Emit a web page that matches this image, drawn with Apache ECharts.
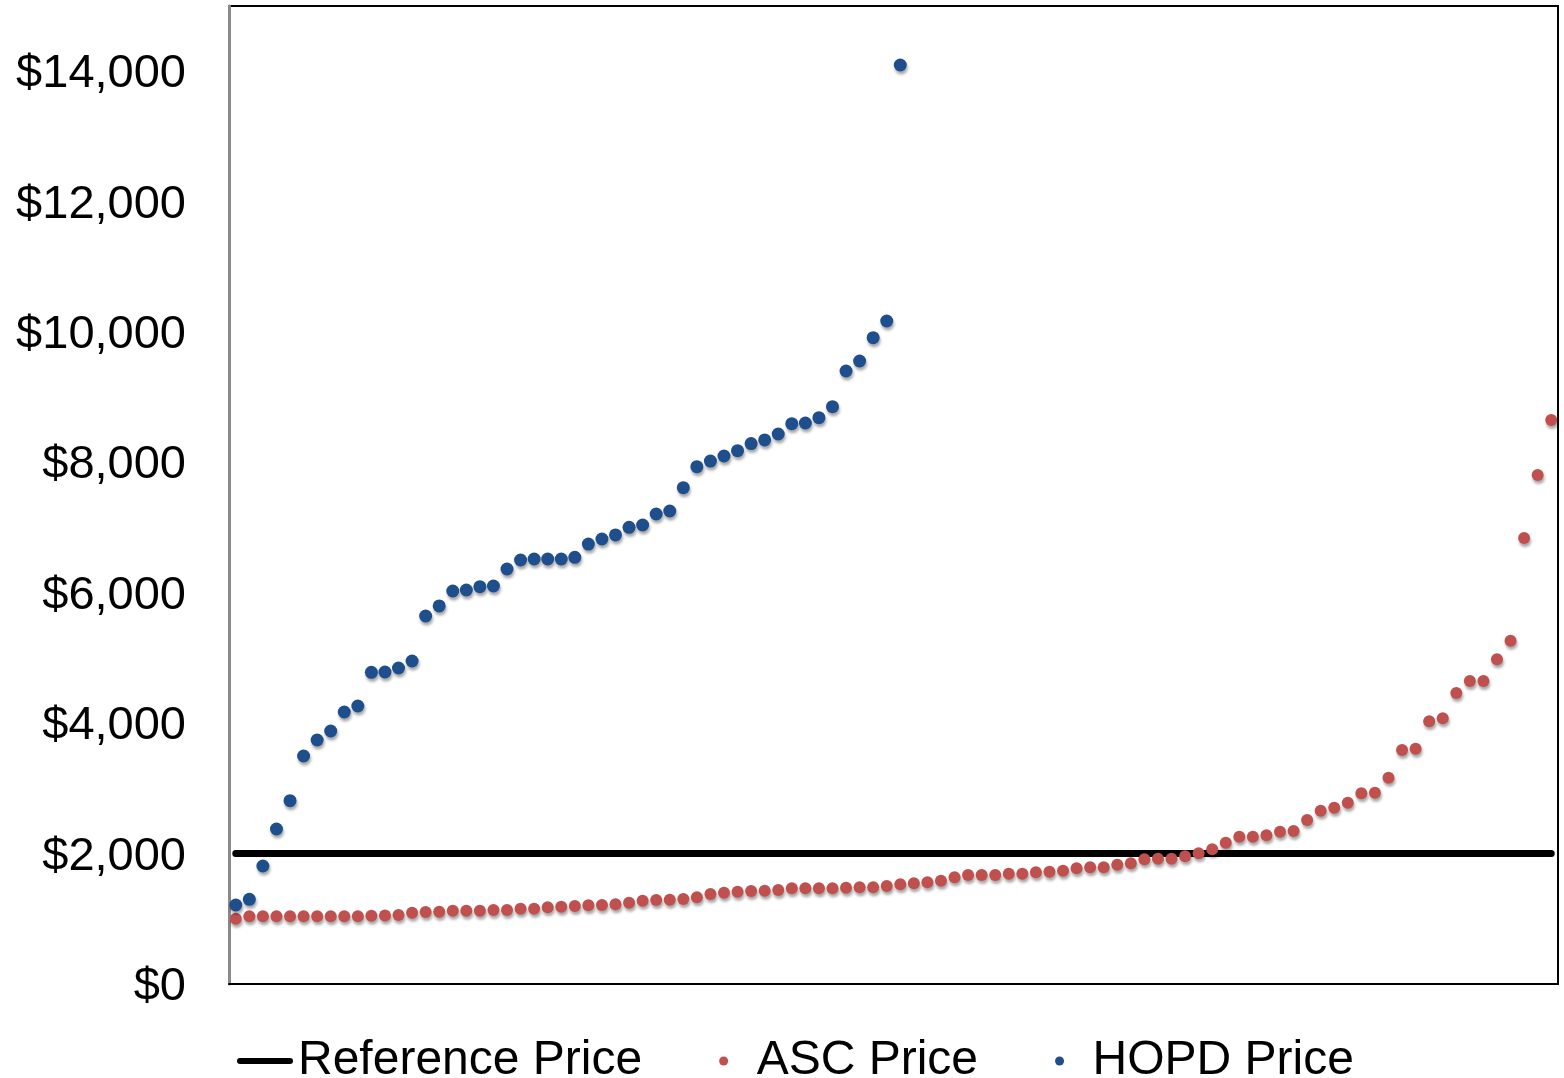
<!DOCTYPE html>
<html>
<head>
<meta charset="utf-8">
<script src="https://cdn.jsdelivr.net/npm/echarts@6/dist/echarts.min.js"></script>
<style>
html,body{margin:0;padding:0;background:#fff;}
#chart{width:1564px;height:1078px;}
</style>
</head>
<body>
<div id="chart"></div>
<script>
// Procedures ranked (x categories, no labels shown)
const categories = [];
for (let i = 1; i <= 98; i++) categories.push(String(i));

const REFERENCE_PRICE = 2000;
const referenceLine = [["1", REFERENCE_PRICE], ["98", REFERENCE_PRICE]];

const ascPrice = [
  1000, 1040, 1040, 1040, 1040, 1040, 1040, 1040, 1040, 1040,
  1045, 1050, 1058, 1094, 1104, 1109, 1125, 1125, 1125, 1135,
  1135, 1155, 1155, 1176, 1185, 1196, 1207, 1212, 1222, 1247,
  1278, 1288, 1293, 1304, 1330, 1380, 1401, 1416, 1426, 1431,
  1442, 1468, 1468, 1468, 1468, 1477, 1483, 1483, 1503, 1529,
  1544, 1560, 1585, 1636, 1672, 1672, 1672, 1692, 1692, 1713,
  1723, 1738, 1774, 1790, 1790, 1830, 1851, 1912, 1922, 1922,
  1958, 2004, 2066, 2167, 2259, 2259, 2280, 2336, 2347, 2515,
  2658, 2704, 2781, 2925, 2935, 3165, 3589, 3609, 4029, 4075,
  4462, 4647, 4647, 4980, 5265, 6840, 7807, 8650
];

const hopdPrice = [
  1212, 1299, 1810, 2377, 2812, 3497, 3742, 3880, 4172, 4264,
  4780, 4785, 4847, 4954, 5644, 5798, 6028, 6043, 6094, 6104,
  6365, 6503, 6518, 6518, 6518, 6544, 6748, 6825, 6887, 7004,
  7040, 7209, 7255, 7612, 7934, 8021, 8098, 8180, 8288, 8344,
  8436, 8594, 8604, 8686, 8855, 9402, 9555, 9913, 10169, 14095
];

const yTicks = { min: 0, max: 15000, interval: 2000 };

const chart = echarts.init(document.getElementById('chart'), null, { renderer: 'canvas' });
const FONT = '"Liberation Sans", Arial, sans-serif';
const shadow = { opacity: 1, shadowColor: 'rgba(0,0,0,0.35)', shadowBlur: 3, shadowOffsetX: 1, shadowOffsetY: 3 };

chart.setOption({
  animation: false,
  backgroundColor: '#ffffff',
  grid: {
    left: 229, right: 6, top: 6, bottom: 94,
    containLabel: false,
    outerBoundsMode: 'none',
    show: true, borderColor: '#000000', borderWidth: 2
  },
  legend: {
    left: 237, top: 1037, padding: 0, itemGap: 77,
    itemWidth: 56, itemHeight: 9,
    textStyle: { fontFamily: FONT, fontSize: 48, color: '#000' },
    data: [
      { name: 'Reference Price', icon: 'path://M3,0 L53,0 A3,3 0 0 1 53,6 L3,6 A3,3 0 0 1 3,0 Z', itemStyle: { color: '#000' } },
      { name: 'ASC Price', icon: 'circle', itemStyle: { opacity: 1 } },
      { name: 'HOPD Price', icon: 'circle', itemStyle: { opacity: 1 } }
    ]
  },
  xAxis: {
    type: 'category',
    data: categories,
    boundaryGap: true,
    axisLine: { show: true, lineStyle: { color: '#000', width: 2 } },
    axisTick: { show: false },
    axisLabel: { show: false },
    splitLine: { show: false }
  },
  yAxis: {
    type: 'value',
    min: yTicks.min, max: yTicks.max, interval: yTicks.interval,
    axisLine: { show: true, lineStyle: { color: '#8a8a8a', width: 3 } },
    axisTick: { show: false },
    splitLine: { show: false },
    axisLabel: {
      margin: 43, showMaxLabel: false,
      fontFamily: FONT, fontSize: 47, color: '#000',
      formatter: v => '{t|$' + String(v).replace(/\B(?=(\d{3})+(?!\d))/g, ',') + '}',
      rich: {
        t: { fontFamily: FONT, fontSize: 47, color: '#000', padding: [6, 0, 0, 0] }
      }
    }
  },
  series: [
    {
      name: 'Reference Price',
      type: 'line',
      data: referenceLine,
      symbol: 'none',
      lineStyle: { color: '#000', width: 7, cap: 'round' },
      itemStyle: { color: '#000' },
      z: 1
    },
    {
      name: 'ASC Price',
      type: 'scatter',
      data: ascPrice,
      symbolSize: 12,
      itemStyle: Object.assign({ color: '#c0504d' }, shadow),
      z: 3
    },
    {
      name: 'HOPD Price',
      type: 'scatter',
      data: hopdPrice,
      symbolSize: 13,
      itemStyle: Object.assign({ color: '#1f4e8c' }, shadow),
      z: 4
    }
  ]
});
</script>
</body>
</html>
